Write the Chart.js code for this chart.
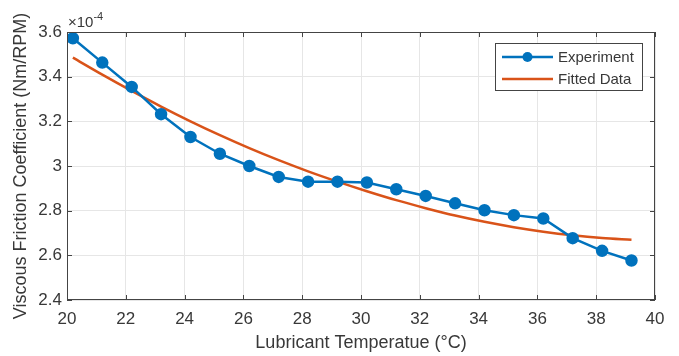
<!DOCTYPE html>
<html>
<head>
<meta charset="utf-8">
<script src="https://cdn.jsdelivr.net/npm/chart.js"></script>
<style>
  body { margin: 0; background: #fff; }
  canvas { display: block; }
</style>
</head>
<body>
<canvas id="chart" width="679" height="356"></canvas>
<script>
// temperature (°C)
const temps = [20.2, 21.2, 22.2, 23.2, 24.2, 25.2, 26.2, 27.2, 28.2, 29.2,
               30.2, 31.2, 32.2, 33.2, 34.2, 35.2, 36.2, 37.2, 38.2, 39.2]
// viscous friction coefficient, x 1e-4 Nm/RPM
const experiment = [3.572, 3.463, 3.354, 3.232, 3.130, 3.055, 3.000, 2.951, 2.930, 2.930,
                    2.926, 2.896, 2.866, 2.833, 2.802, 2.780, 2.765, 2.677, 2.620, 2.577]
const fitted = [3.485, 3.409, 3.336, 3.266, 3.200, 3.138, 3.080, 3.026, 2.976, 2.930,
                2.887, 2.847, 2.811, 2.778, 2.750, 2.726, 2.706, 2.690, 2.678, 2.670]
const xTicks = [20, 22, 24, 26, 28, 30, 32, 34, 36, 38, 40]
const yTicks = [2.4, 2.6, 2.8, 3.0, 3.2, 3.4, 3.6]

const FONT = "'Liberation Sans', Arial, sans-serif"
const TEXT = '#383838'
const BLUE = '#0072BD'
const ORANGE = '#D95319'

const toPoints = (ys) => temps.map((t, i) => ({ x: t, y: ys[i] }))

// box, inward ticks, exponent label and legend, drawn like a matlab axes
const matlabAxes = {
    id: 'matlabAxes',
    afterDatasetsDraw(chart) {
        const { ctx, chartArea: a, scales: { x, y } } = chart
        ctx.save()
        ctx.strokeStyle = '#444'
        ctx.lineWidth = 1
        ctx.strokeRect(a.left + 0.5, a.top + 0.5, a.right - a.left - 1, a.bottom - a.top - 1)
        ctx.beginPath()
        xTicks.forEach(v => {
            const px = Math.round(x.getPixelForValue(v)) + 0.5
            ctx.moveTo(px, a.bottom); ctx.lineTo(px, a.bottom - 5)
            ctx.moveTo(px, a.top); ctx.lineTo(px, a.top + 5)
        })
        yTicks.forEach(v => {
            const py = Math.round(y.getPixelForValue(v)) + 0.5
            ctx.moveTo(a.left, py); ctx.lineTo(a.left + 5, py)
            ctx.moveTo(a.right, py); ctx.lineTo(a.right - 5, py)
        })
        ctx.stroke()

        // x10^-4
        ctx.fillStyle = TEXT
        ctx.textBaseline = 'alphabetic'
        ctx.textAlign = 'left'
        ctx.font = '15px ' + FONT
        ctx.fillText('\u00d710', a.left + 1, 27)
        const w = ctx.measureText('\u00d710').width
        ctx.font = '11px ' + FONT
        ctx.fillText('-4', a.left + 1 + w, 20)

        // legend
        const lx = 495, ly = 43, lw = 147, lh = 47
        ctx.fillStyle = '#fff'
        ctx.fillRect(lx, ly, lw, lh)
        ctx.strokeStyle = '#444'
        ctx.strokeRect(lx + 0.5, ly + 0.5, lw, lh)
        chart.data.datasets.forEach((ds, i) => {
            const ry = ly + 14 + i * 22
            ctx.strokeStyle = ds.borderColor
            ctx.lineWidth = 2.5
            ctx.beginPath()
            ctx.moveTo(lx + 7, ry); ctx.lineTo(lx + 58, ry)
            ctx.stroke()
            if (ds.pointRadius > 0) {
                ctx.fillStyle = ds.borderColor
                ctx.beginPath()
                ctx.arc(lx + 32.5, ry, 5, 0, Math.PI * 2)
                ctx.fill()
            }
            ctx.fillStyle = TEXT
            ctx.font = '15px ' + FONT
            ctx.textBaseline = 'middle'
            ctx.fillText(ds.label, lx + 63, ry + 1)
        })
        ctx.restore()
    }
}

new Chart(document.getElementById('chart'), {
    type: 'line',
    data: {
        datasets: [{
            label: 'Experiment',
            data: toPoints(experiment),
            borderColor: BLUE,
            backgroundColor: BLUE,
            borderWidth: 2.5,
            pointRadius: 5,
            pointBackgroundColor: BLUE,
            pointBorderColor: BLUE,
            tension: 0
        }, {
            label: 'Fitted Data',
            data: toPoints(fitted),
            borderColor: ORANGE,
            backgroundColor: ORANGE,
            borderWidth: 2.5,
            pointRadius: 0,
            cubicInterpolationMode: 'monotone'
        }]
    },
    options: {
        responsive: false,
        animation: false,
        devicePixelRatio: 1,
        layout: { padding: { top: 32, right: 24, left: 0, bottom: 0 } },
        plugins: { legend: { display: false }, tooltip: { enabled: false } },
        scales: {
            x: {
                type: 'linear',
                min: 20,
                max: 40,
                afterFit: (s) => { s.height = 56 },
                afterBuildTicks: (s) => { s.ticks = xTicks.map(v => ({ value: v })) },
                grid: { color: '#e6e6e6', drawTicks: false },
                border: { display: false },
                ticks: { color: TEXT, padding: 9, font: { family: FONT, size: 17 } },
                title: {
                    display: true,
                    text: 'Lubricant Temperatue (°C)',
                    color: TEXT,
                    font: { family: FONT, size: 18 },
                    padding: { top: 0, bottom: 2 }
                }
            },
            y: {
                min: 2.4,
                max: 3.6,
                afterFit: (s) => { s.width = 67 },
                afterBuildTicks: (s) => { s.ticks = yTicks.map(v => ({ value: v })) },
                grid: { color: '#e6e6e6', drawTicks: false },
                border: { display: false },
                ticks: {
                    color: TEXT,
                    padding: 5,
                    font: { family: FONT, size: 17 },
                    callback: (v) => String(Number(v.toFixed(1)))
                },
                title: {
                    display: true,
                    text: 'Viscous Friction Coefficient (Nm/RPM)',
                    color: TEXT,
                    font: { family: FONT, size: 18 },
                    padding: { top: 10, bottom: 0 }
                }
            }
        }
    },
    plugins: [matlabAxes]
})
</script>
</body>
</html>
